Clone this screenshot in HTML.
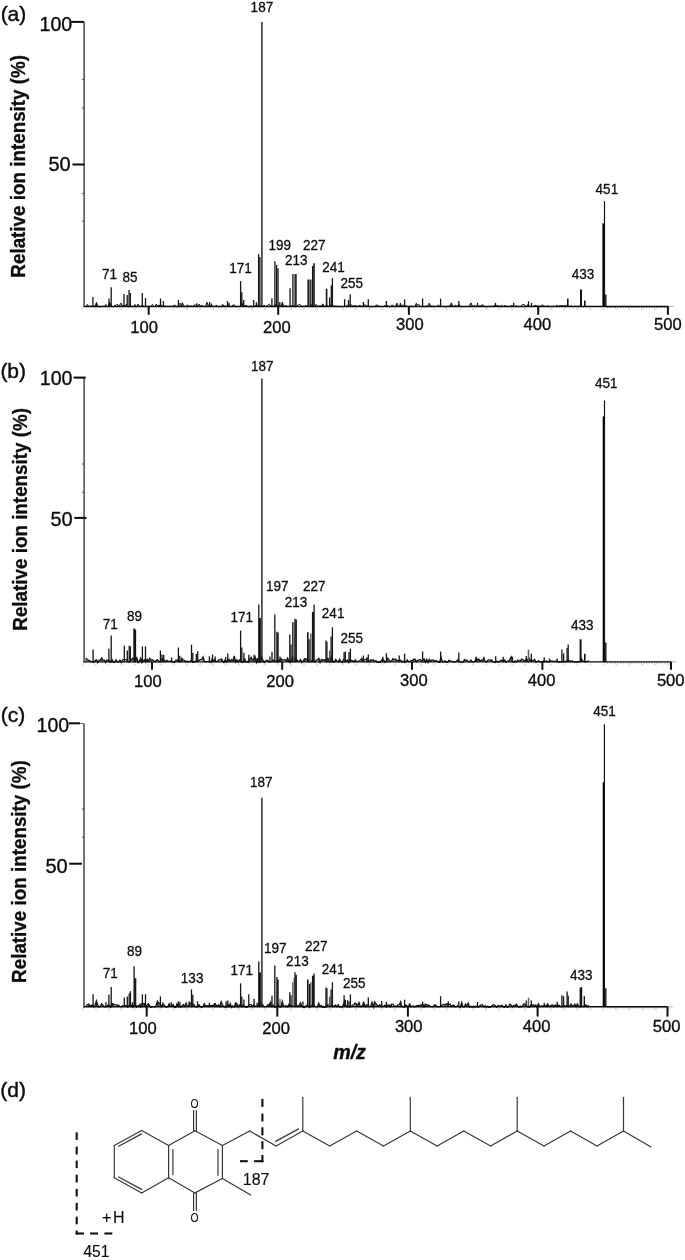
<!DOCTYPE html>
<html lang="en"><head><meta charset="utf-8"><title>Figure</title>
<style>
html,body{margin:0;padding:0;background:#fff}
svg{display:block}
text{font-family:"Liberation Sans",Arial,Helvetica,sans-serif;fill:#0d0d0d;stroke:#0d0d0d;stroke-linejoin:round}
</style></head><body>
<svg width="685" height="1260" viewBox="0 0 685 1260">
<rect width="685" height="1260" fill="#fff"/>
<path d="M81.3 308.1l2.6 2M83.9 308.1l-2.6 2M94.3 308.1l2.6 2M96.9 308.1l-2.6 2M107.3 308.1l2.6 2M109.9 308.1l-2.6 2M120.4 308.1l2.6 2M123.0 308.1l-2.6 2M133.4 308.1l2.6 2M136.0 308.1l-2.6 2M146.4 308.1l2.6 2M149.0 308.1l-2.6 2M159.4 308.1l2.6 2M162.0 308.1l-2.6 2M172.4 308.1l2.6 2M175.0 308.1l-2.6 2M185.5 308.1l2.6 2M188.1 308.1l-2.6 2M198.5 308.1l2.6 2M201.1 308.1l-2.6 2M211.5 308.1l2.6 2M214.1 308.1l-2.6 2M224.5 308.1l2.6 2M227.1 308.1l-2.6 2M237.5 308.1l2.6 2M240.1 308.1l-2.6 2M250.6 308.1l2.6 2M253.2 308.1l-2.6 2M263.6 308.1l2.6 2M266.2 308.1l-2.6 2M276.6 308.1l2.6 2M279.2 308.1l-2.6 2M289.6 308.1l2.6 2M292.2 308.1l-2.6 2M302.6 308.1l2.6 2M305.2 308.1l-2.6 2M315.7 308.1l2.6 2M318.3 308.1l-2.6 2M328.7 308.1l2.6 2M331.3 308.1l-2.6 2M341.7 308.1l2.6 2M344.3 308.1l-2.6 2M354.7 308.1l2.6 2M357.3 308.1l-2.6 2M367.7 308.1l2.6 2M370.3 308.1l-2.6 2M380.8 308.1l2.6 2M383.4 308.1l-2.6 2M393.8 308.1l2.6 2M396.4 308.1l-2.6 2M406.8 308.1l2.6 2M409.4 308.1l-2.6 2M419.8 308.1l2.6 2M422.4 308.1l-2.6 2M432.8 308.1l2.6 2M435.4 308.1l-2.6 2M445.9 308.1l2.6 2M448.5 308.1l-2.6 2M458.9 308.1l2.6 2M461.5 308.1l-2.6 2M471.9 308.1l2.6 2M474.5 308.1l-2.6 2M484.9 308.1l2.6 2M487.5 308.1l-2.6 2M497.9 308.1l2.6 2M500.5 308.1l-2.6 2M511.0 308.1l2.6 2M513.6 308.1l-2.6 2M524.0 308.1l2.6 2M526.6 308.1l-2.6 2M537.0 308.1l2.6 2M539.6 308.1l-2.6 2M550.0 308.1l2.6 2M552.6 308.1l-2.6 2M563.0 308.1l2.6 2M565.6 308.1l-2.6 2M576.1 308.1l2.6 2M578.7 308.1l-2.6 2M589.1 308.1l2.6 2M591.7 308.1l-2.6 2M602.1 308.1l2.6 2M604.7 308.1l-2.6 2M615.1 308.1l2.6 2M617.7 308.1l-2.6 2M628.1 308.1l2.6 2M630.7 308.1l-2.6 2M641.2 308.1l2.6 2M643.8 308.1l-2.6 2M654.2 308.1l2.6 2M656.8 308.1l-2.6 2M667.2 308.1l2.6 2M669.8 308.1l-2.6 2" stroke="#c4c4c4" stroke-width="0.6" fill="none"/>
<path d="M86.1 306.4L87.4 304.4L88.7 306.4L90.0 306.4L91.3 306.2L92.6 306.6L93.9 306.2L95.2 305.8L96.5 302.3L97.8 306.3L99.1 306.8L100.4 306.8L101.7 306.6L103.0 306.4L104.3 306.1L105.6 306.3L106.9 306.3L108.2 306.6L109.5 302.2L110.8 305.1L112.1 306.6L113.4 306.8L114.7 305.4L116.0 305.4L117.3 304.0L118.6 306.7L119.9 304.4L121.2 303.3L122.5 306.3L123.8 305.5L125.1 306.6L126.4 304.1L127.7 306.6L129.0 306.8L130.3 305.6L131.6 306.5L132.9 306.2L134.2 306.3L135.5 306.5L136.8 306.6L138.1 304.0L139.4 306.1L140.7 306.5L142.0 305.2L143.3 306.0L144.6 306.6L145.9 305.5L147.2 306.8L148.5 306.4L149.8 306.3L151.1 306.5L152.4 304.4L153.7 306.1L155.0 306.7L156.3 304.0L157.6 306.7L158.9 304.9L160.2 306.1L161.5 305.2L162.8 306.7L164.1 306.0L165.4 306.3L166.7 306.2L168.0 306.6L169.3 306.2L170.6 306.6L171.9 306.1L173.2 306.6L174.5 304.8L175.8 306.6L177.1 306.8L178.4 306.5L179.7 306.7L181.0 306.1L182.3 302.8L183.6 305.2L184.9 306.8L186.2 306.1L187.5 304.8L188.8 306.3L190.1 306.2L191.4 306.0L192.7 306.4L194.0 304.9L195.3 305.1L196.6 304.9L197.9 306.3L199.2 304.0L200.5 306.2L201.8 305.2L203.1 306.5L204.4 306.3L205.7 306.3L207.0 302.4L208.3 305.4L209.6 305.2L210.9 306.1L212.2 306.2L213.5 306.3L214.8 306.6L216.1 305.3L217.4 306.1L218.7 306.8L220.0 306.3L221.3 306.7L222.6 304.2L223.9 306.1L225.2 306.3L226.5 306.5L227.8 304.9L229.1 305.4L230.4 306.6L231.7 306.4L233.0 305.0L234.3 304.8L235.6 306.7L236.9 306.6L238.2 306.5L239.5 306.4L240.8 306.1L242.1 303.2L243.4 306.8L244.7 305.8L246.0 305.2L247.3 306.2L248.6 306.7L249.9 306.8L251.2 305.6L252.5 306.8L253.8 306.5L255.1 306.3L256.4 304.8L257.7 305.6L259.0 306.7L260.3 306.4L261.6 305.6L262.9 306.5L264.2 305.3L265.5 306.2L266.8 306.2L268.1 304.9L269.4 304.1L270.7 306.5L272.0 306.1L273.3 306.4L274.6 305.0L275.9 304.4L277.2 306.7L278.5 305.0L279.8 306.2L281.1 306.1L282.4 302.2L283.7 306.2L285.0 306.1L286.3 305.5L287.6 306.5L288.9 306.2L290.2 306.8L291.5 305.7L292.8 305.6L294.1 306.2L295.4 306.7L296.7 306.2L298.0 305.1L299.3 304.4L300.6 304.9L301.9 306.4L303.2 306.2L304.5 306.4L305.8 305.2L307.1 306.5L308.4 304.9L309.7 306.1L311.0 304.4L312.3 306.7L313.6 306.4L314.9 306.8L316.2 304.4L317.5 306.2L318.8 306.4L320.1 305.7L321.4 306.5L322.7 303.9L324.0 306.4L325.3 306.5L326.6 304.9L327.9 306.6L329.2 306.3L330.5 304.8L331.8 305.8L333.1 306.6L334.4 305.5L335.7 306.3L337.0 306.2L338.3 306.4L339.6 306.7L340.9 306.5L342.2 306.5L343.5 306.7L344.8 306.3L346.1 306.4L347.4 305.2L348.7 305.6L350.0 305.0L351.3 304.6L352.6 306.1L353.9 306.0L355.2 305.7L356.5 306.2L357.8 306.7L359.1 305.4L360.4 305.7L361.7 306.3L363.0 306.7L364.3 304.9L365.6 304.9L366.9 306.2L368.2 306.3L369.5 306.8L370.8 306.7L372.1 306.4L373.4 306.7L374.7 306.6L376.0 305.1L377.3 305.1L378.6 306.1L379.9 306.3L381.2 306.5L382.5 306.5L383.8 306.8L385.1 305.2L386.4 306.5L387.7 305.6L389.0 306.7L390.3 306.8L391.6 305.2L392.9 305.2L394.2 306.5L395.5 306.4L396.8 303.1L398.1 306.2L399.4 305.2L400.7 305.6L402.0 305.2L403.3 305.3L404.6 305.6L405.9 305.8L407.2 306.5L408.5 306.5L409.8 306.3L411.1 306.1L412.4 306.5L413.7 306.4L415.0 306.5L416.3 303.4L417.6 305.3L418.9 304.3L420.2 306.3L421.5 306.5L422.8 306.6L424.1 306.7L425.4 306.2L426.7 306.4L428.0 304.6L429.3 303.4L430.6 305.8L431.9 306.3L433.2 306.1L434.5 306.5L435.8 306.4L437.1 306.7L438.4 304.8L439.7 306.4L441.0 306.6L442.3 306.4L443.6 306.3L444.9 306.8L446.2 306.7L447.5 306.3L448.8 306.2L450.1 305.9L451.4 302.9L452.7 306.2L454.0 306.4L455.3 305.0L456.6 306.1L457.9 305.5L459.2 304.4L460.5 306.7L461.8 306.5L463.1 306.7L464.4 306.7L465.7 306.3L467.0 306.6L468.3 306.5L469.6 305.5L470.9 302.9L472.2 305.7L473.5 306.2L474.8 305.4L476.1 306.6L477.4 305.4L478.7 306.3L480.0 305.7L481.3 306.1L482.6 304.3L483.9 306.7L485.2 306.5L486.5 306.7L487.8 306.7L489.1 306.3L490.4 306.3L491.7 306.4L493.0 306.5L494.3 305.2L495.6 306.7L496.9 305.4L498.2 305.7L499.5 306.6L500.8 305.6L502.1 306.1L503.4 306.4L504.7 305.1L506.0 306.5L507.3 306.2L508.6 306.7L509.9 306.4L511.2 305.7L512.5 305.8L513.8 306.3L515.1 306.6L516.4 305.3L517.7 306.7L519.0 306.3L520.3 306.7L521.6 305.4L522.9 304.3L524.2 304.8L525.5 305.6L526.8 306.5L528.1 304.3L529.4 306.5L530.7 306.5L532.0 306.5L533.3 306.4L534.6 305.4L535.9 305.4L537.2 306.3L538.5 305.7L539.8 306.4L541.1 306.4L542.4 304.6L543.7 305.9L545.0 306.3L546.3 306.6L547.6 305.7L548.9 306.4L550.2 306.4L551.5 306.6L552.8 306.4L554.1 306.4L555.4 306.5L556.7 305.3L558.0 306.4L559.3 305.8L560.6 305.5L561.9 305.8L563.2 305.7L564.5 305.7L565.8 305.3L567.1 306.4L568.4 305.9L569.7 306.6L571.0 305.6L572.3 306.6L573.6 306.5L574.9 306.3L576.2 306.5L577.5 306.4L578.8 306.1L580.1 306.5L581.4 306.3L582.7 306.6L584.0 306.6L585.3 306.4L586.6 306.6L587.9 306.5L589.2 306.4" stroke="#111" stroke-width="1.0" fill="none" stroke-linejoin="miter"/>
<path d="M96.5 306.5V302.3M109.5 306.5V302.2M121.2 306.5V303.3M182.3 306.5V302.8M207.0 306.5V302.4M242.1 306.5V303.2M282.4 306.5V302.2M322.7 306.5V303.9M396.8 306.5V303.1M416.3 306.5V303.4M429.3 306.5V303.4M451.4 306.5V302.9M470.9 306.5V302.9" stroke="#222" stroke-width="1" fill="none"/>
<line x1="92.90" y1="306.80" x2="92.90" y2="297.00" stroke="#141414" stroke-width="1.3" />
<line x1="105.80" y1="306.80" x2="105.80" y2="304.30" stroke="#141414" stroke-width="1.3" />
<line x1="109.00" y1="306.80" x2="109.00" y2="298.50" stroke="#141414" stroke-width="1.3" />
<line x1="111.20" y1="306.80" x2="111.20" y2="287.20" stroke="#141414" stroke-width="1.3" />
<line x1="124.00" y1="306.80" x2="124.00" y2="294.00" stroke="#141414" stroke-width="1.3" />
<line x1="127.20" y1="306.80" x2="127.20" y2="295.00" stroke="#141414" stroke-width="1.3" />
<line x1="129.10" y1="306.80" x2="129.10" y2="290.00" stroke="#141414" stroke-width="1.3" />
<line x1="130.30" y1="306.80" x2="130.30" y2="293.00" stroke="#141414" stroke-width="1.3" />
<line x1="135.00" y1="306.80" x2="135.00" y2="304.30" stroke="#141414" stroke-width="1.3" />
<line x1="142.30" y1="306.80" x2="142.30" y2="293.00" stroke="#141414" stroke-width="1.3" />
<line x1="145.50" y1="306.80" x2="145.50" y2="298.00" stroke="#141414" stroke-width="1.3" />
<line x1="160.50" y1="306.80" x2="160.50" y2="298.50" stroke="#141414" stroke-width="1.3" />
<line x1="163.40" y1="306.80" x2="163.40" y2="301.00" stroke="#141414" stroke-width="1.3" />
<line x1="178.40" y1="306.80" x2="178.40" y2="300.00" stroke="#141414" stroke-width="1.3" />
<line x1="180.00" y1="306.80" x2="180.00" y2="303.00" stroke="#141414" stroke-width="1.3" />
<line x1="196.80" y1="306.80" x2="196.80" y2="303.20" stroke="#141414" stroke-width="1.3" />
<line x1="209.60" y1="306.80" x2="209.60" y2="302.00" stroke="#141414" stroke-width="1.3" />
<line x1="211.50" y1="306.80" x2="211.50" y2="303.50" stroke="#141414" stroke-width="1.3" />
<line x1="227.50" y1="306.80" x2="227.50" y2="301.00" stroke="#141414" stroke-width="1.3" />
<line x1="229.00" y1="306.80" x2="229.00" y2="303.00" stroke="#141414" stroke-width="1.3" />
<line x1="240.60" y1="306.80" x2="240.60" y2="281.20" stroke="#141414" stroke-width="1.3" />
<line x1="241.80" y1="306.80" x2="241.80" y2="292.20" stroke="#141414" stroke-width="1.3" />
<line x1="243.70" y1="306.80" x2="243.70" y2="300.00" stroke="#141414" stroke-width="1.3" />
<line x1="253.70" y1="306.80" x2="253.70" y2="300.00" stroke="#141414" stroke-width="1.3" />
<line x1="256.40" y1="306.80" x2="256.40" y2="302.20" stroke="#141414" stroke-width="1.3" />
<line x1="258.60" y1="306.80" x2="258.60" y2="254.20" stroke="#141414" stroke-width="1.3" />
<line x1="259.90" y1="306.80" x2="259.90" y2="257.00" stroke="#141414" stroke-width="1.3" />
<line x1="261.90" y1="306.80" x2="261.90" y2="21.90" stroke="#2a2a2a" stroke-width="1.5" />
<line x1="271.90" y1="306.80" x2="271.90" y2="298.30" stroke="#141414" stroke-width="1.3" />
<line x1="274.90" y1="306.80" x2="274.90" y2="261.20" stroke="#141414" stroke-width="1.3" />
<line x1="276.60" y1="306.80" x2="276.60" y2="265.00" stroke="#141414" stroke-width="1.3" />
<line x1="278.00" y1="306.80" x2="278.00" y2="268.20" stroke="#141414" stroke-width="1.3" />
<line x1="279.80" y1="306.80" x2="279.80" y2="302.00" stroke="#141414" stroke-width="1.3" />
<line x1="290.10" y1="306.80" x2="290.10" y2="288.20" stroke="#141414" stroke-width="1.3" />
<line x1="292.90" y1="306.80" x2="292.90" y2="274.10" stroke="#141414" stroke-width="1.3" />
<line x1="294.30" y1="306.80" x2="294.30" y2="274.10" stroke="#777" stroke-width="1.6" />
<line x1="295.90" y1="306.80" x2="295.90" y2="274.10" stroke="#141414" stroke-width="1.6" />
<line x1="308.20" y1="306.80" x2="308.20" y2="279.40" stroke="#141414" stroke-width="1.6" />
<line x1="309.50" y1="306.80" x2="309.50" y2="279.60" stroke="#777" stroke-width="1.3" />
<line x1="310.80" y1="306.80" x2="310.80" y2="279.40" stroke="#141414" stroke-width="1.3" />
<line x1="312.60" y1="306.80" x2="312.60" y2="266.00" stroke="#141414" stroke-width="1.3" />
<line x1="314.00" y1="306.80" x2="314.00" y2="263.30" stroke="#141414" stroke-width="1.6" />
<line x1="326.60" y1="306.80" x2="326.60" y2="288.70" stroke="#141414" stroke-width="1.6" />
<line x1="329.60" y1="306.80" x2="329.60" y2="297.50" stroke="#141414" stroke-width="1.3" />
<line x1="331.30" y1="306.80" x2="331.30" y2="285.20" stroke="#141414" stroke-width="1.3" />
<line x1="332.40" y1="306.80" x2="332.40" y2="278.20" stroke="#141414" stroke-width="1.3" />
<line x1="344.60" y1="306.80" x2="344.60" y2="299.20" stroke="#141414" stroke-width="1.3" />
<line x1="348.50" y1="306.80" x2="348.50" y2="300.00" stroke="#141414" stroke-width="1.3" />
<line x1="350.20" y1="306.80" x2="350.20" y2="294.30" stroke="#141414" stroke-width="1.3" />
<line x1="363.40" y1="306.80" x2="363.40" y2="302.00" stroke="#141414" stroke-width="1.3" />
<line x1="368.30" y1="306.80" x2="368.30" y2="299.20" stroke="#141414" stroke-width="1.3" />
<line x1="386.40" y1="306.80" x2="386.40" y2="301.00" stroke="#141414" stroke-width="1.3" />
<line x1="400.40" y1="306.80" x2="400.40" y2="303.00" stroke="#141414" stroke-width="1.3" />
<line x1="404.60" y1="306.80" x2="404.60" y2="299.50" stroke="#141414" stroke-width="1.3" />
<line x1="422.60" y1="306.80" x2="422.60" y2="298.60" stroke="#141414" stroke-width="1.3" />
<line x1="440.60" y1="306.80" x2="440.60" y2="298.60" stroke="#141414" stroke-width="1.3" />
<line x1="458.80" y1="306.80" x2="458.80" y2="301.00" stroke="#141414" stroke-width="1.3" />
<line x1="477.50" y1="306.80" x2="477.50" y2="302.80" stroke="#141414" stroke-width="1.3" />
<line x1="495.50" y1="306.80" x2="495.50" y2="302.80" stroke="#141414" stroke-width="1.3" />
<line x1="513.70" y1="306.80" x2="513.70" y2="302.80" stroke="#141414" stroke-width="1.3" />
<line x1="528.50" y1="306.80" x2="528.50" y2="301.30" stroke="#141414" stroke-width="1.3" />
<line x1="531.50" y1="306.80" x2="531.50" y2="302.80" stroke="#141414" stroke-width="1.3" />
<line x1="567.80" y1="306.80" x2="567.80" y2="298.50" stroke="#141414" stroke-width="1.6" />
<line x1="581.00" y1="306.80" x2="581.00" y2="289.60" stroke="#141414" stroke-width="2" />
<line x1="584.80" y1="306.80" x2="584.80" y2="300.40" stroke="#141414" stroke-width="1.6" />
<line x1="603.50" y1="306.80" x2="603.50" y2="223.30" stroke="#000" stroke-width="2.2" />
<line x1="604.50" y1="306.80" x2="604.50" y2="201.10" stroke="#141414" stroke-width="1.2" />
<line x1="605.80" y1="306.80" x2="605.80" y2="294.50" stroke="#141414" stroke-width="1.4" />
<line x1="607" y1="307.5" x2="667.5" y2="307.5" stroke="#777" stroke-width="0.9" stroke-dasharray="1.2 1.4"/>
<line x1="83.40" y1="306.50" x2="668.50" y2="306.50" stroke="#0a0a0a" stroke-width="1.4" />
<line x1="668.50" y1="306.50" x2="673.50" y2="306.50" stroke="#999" stroke-width="0.8" />
<line x1="84.10" y1="22.30" x2="84.10" y2="307.10" stroke="#3a3a3a" stroke-width="1.4" />
<line x1="71.20" y1="21.90" x2="84.00" y2="21.90" stroke="#0a0a0a" stroke-width="2.0" />
<line x1="72.50" y1="164.50" x2="84.50" y2="164.50" stroke="#0a0a0a" stroke-width="2.0" />
<line x1="82.10" y1="79.40" x2="84.10" y2="79.40" stroke="#444" stroke-width="1.0" />
<line x1="82.10" y1="107.90" x2="84.10" y2="107.90" stroke="#444" stroke-width="1.0" />
<line x1="82.10" y1="193.70" x2="84.10" y2="193.70" stroke="#444" stroke-width="1.0" />
<line x1="82.10" y1="221.20" x2="84.10" y2="221.20" stroke="#444" stroke-width="1.0" />
<line x1="148.70" y1="306.50" x2="148.70" y2="314.80" stroke="#111" stroke-width="2.0" />
<line x1="278.20" y1="306.50" x2="278.20" y2="314.80" stroke="#111" stroke-width="2.0" />
<line x1="408.90" y1="306.50" x2="408.90" y2="314.80" stroke="#111" stroke-width="2.0" />
<line x1="538.20" y1="306.50" x2="538.20" y2="314.80" stroke="#111" stroke-width="2.0" />
<line x1="667.90" y1="306.50" x2="667.90" y2="314.80" stroke="#111" stroke-width="2.0" />
<text transform="translate(250.62 11.70) scale(0.92 1)" font-size="14.7" stroke-width="0.3" >187</text>
<text transform="translate(101.96 279.20) scale(0.92 1)" font-size="14.7" stroke-width="0.3" >71</text>
<text transform="translate(122.56 281.70) scale(0.92 1)" font-size="14.7" stroke-width="0.3" >85</text>
<text transform="translate(229.34 272.60) scale(0.92 1)" font-size="14.7" stroke-width="0.3" >171</text>
<text transform="translate(268.49 249.60) scale(0.92 1)" font-size="14.7" stroke-width="0.3" >199</text>
<text transform="translate(284.92 265.40) scale(0.92 1)" font-size="14.7" stroke-width="0.3" >213</text>
<text transform="translate(303.04 249.80) scale(0.92 1)" font-size="14.7" stroke-width="0.3" >227</text>
<text transform="translate(322.31 272.00) scale(0.92 1)" font-size="14.7" stroke-width="0.3" >241</text>
<text transform="translate(340.52 288.00) scale(0.92 1)" font-size="14.7" stroke-width="0.3" >255</text>
<text transform="translate(571.83 279.10) scale(0.92 1)" font-size="14.7" stroke-width="0.3" >433</text>
<text transform="translate(595.61 193.80) scale(0.92 1)" font-size="14.7" stroke-width="0.3" >451</text>
<text x="130.20" y="333.00" font-size="16.6" stroke-width="0.35" >100</text>
<text x="263.11" y="333.00" font-size="16.6" stroke-width="0.35" >200</text>
<text x="396.09" y="329.90" font-size="16.6" stroke-width="0.35" >300</text>
<text x="523.55" y="329.90" font-size="16.6" stroke-width="0.35" >400</text>
<text x="654.09" y="329.90" font-size="16.6" stroke-width="0.35" >500</text>
<text x="39.49" y="31.00" font-size="19.6" stroke-width="0.35" >100</text>
<text x="48.50" y="170.50" font-size="20" stroke-width="0.35" >50</text>
<text x="0.64" y="20.60" font-size="21" stroke-width="0.4" >(a)</text>
<text transform="translate(24.72 277.64) rotate(-90) scale(0.946 1)" font-size="19.9" font-weight="bold" stroke-width="0.3">Relative ion intensity (%)</text>
<path d="M81.3 663.5l2.6 2M83.9 663.5l-2.6 2M94.3 663.5l2.6 2M96.9 663.5l-2.6 2M107.3 663.5l2.6 2M109.9 663.5l-2.6 2M120.4 663.5l2.6 2M123.0 663.5l-2.6 2M133.4 663.5l2.6 2M136.0 663.5l-2.6 2M146.4 663.5l2.6 2M149.0 663.5l-2.6 2M159.4 663.5l2.6 2M162.0 663.5l-2.6 2M172.4 663.5l2.6 2M175.0 663.5l-2.6 2M185.5 663.5l2.6 2M188.1 663.5l-2.6 2M198.5 663.5l2.6 2M201.1 663.5l-2.6 2M211.5 663.5l2.6 2M214.1 663.5l-2.6 2M224.5 663.5l2.6 2M227.1 663.5l-2.6 2M237.5 663.5l2.6 2M240.1 663.5l-2.6 2M250.6 663.5l2.6 2M253.2 663.5l-2.6 2M263.6 663.5l2.6 2M266.2 663.5l-2.6 2M276.6 663.5l2.6 2M279.2 663.5l-2.6 2M289.6 663.5l2.6 2M292.2 663.5l-2.6 2M302.6 663.5l2.6 2M305.2 663.5l-2.6 2M315.7 663.5l2.6 2M318.3 663.5l-2.6 2M328.7 663.5l2.6 2M331.3 663.5l-2.6 2M341.7 663.5l2.6 2M344.3 663.5l-2.6 2M354.7 663.5l2.6 2M357.3 663.5l-2.6 2M367.7 663.5l2.6 2M370.3 663.5l-2.6 2M380.8 663.5l2.6 2M383.4 663.5l-2.6 2M393.8 663.5l2.6 2M396.4 663.5l-2.6 2M406.8 663.5l2.6 2M409.4 663.5l-2.6 2M419.8 663.5l2.6 2M422.4 663.5l-2.6 2M432.8 663.5l2.6 2M435.4 663.5l-2.6 2M445.9 663.5l2.6 2M448.5 663.5l-2.6 2M458.9 663.5l2.6 2M461.5 663.5l-2.6 2M471.9 663.5l2.6 2M474.5 663.5l-2.6 2M484.9 663.5l2.6 2M487.5 663.5l-2.6 2M497.9 663.5l2.6 2M500.5 663.5l-2.6 2M511.0 663.5l2.6 2M513.6 663.5l-2.6 2M524.0 663.5l2.6 2M526.6 663.5l-2.6 2M537.0 663.5l2.6 2M539.6 663.5l-2.6 2M550.0 663.5l2.6 2M552.6 663.5l-2.6 2M563.0 663.5l2.6 2M565.6 663.5l-2.6 2M576.1 663.5l2.6 2M578.7 663.5l-2.6 2M589.1 663.5l2.6 2M591.7 663.5l-2.6 2M602.1 663.5l2.6 2M604.7 663.5l-2.6 2M615.1 663.5l2.6 2M617.7 663.5l-2.6 2M628.1 663.5l2.6 2M630.7 663.5l-2.6 2M641.2 663.5l2.6 2M643.8 663.5l-2.6 2M654.2 663.5l2.6 2M656.8 663.5l-2.6 2M667.2 663.5l2.6 2M669.8 663.5l-2.6 2" stroke="#c4c4c4" stroke-width="0.6" fill="none"/>
<path d="M86.1 658.2L87.4 659.9L88.7 660.4L90.0 660.9L91.3 661.9L92.6 661.9L93.9 662.5L95.2 660.4L96.5 659.9L97.8 662.5L99.1 660.2L100.4 660.1L101.7 657.8L103.0 660.5L104.3 660.0L105.6 662.5L106.9 660.0L108.2 660.4L109.5 660.8L110.8 662.1L112.1 659.7L113.4 662.5L114.7 662.2L116.0 659.8L117.3 662.0L118.6 662.1L119.9 660.2L121.2 662.4L122.5 660.0L123.8 659.6L125.1 659.6L126.4 659.6L127.7 661.1L129.0 662.0L130.3 661.3L131.6 659.5L132.9 658.2L134.2 659.5L135.5 660.5L136.8 657.8L138.1 662.5L139.4 660.8L140.7 658.2L142.0 662.5L143.3 660.8L144.6 659.8L145.9 661.9L147.2 659.2L148.5 661.2L149.8 658.3L151.1 660.4L152.4 659.8L153.7 660.7L155.0 662.0L156.3 660.2L157.6 659.8L158.9 661.6L160.2 661.7L161.5 659.6L162.8 658.7L164.1 660.2L165.4 661.7L166.7 660.4L168.0 661.1L169.3 661.4L170.6 661.2L171.9 661.5L173.2 661.9L174.5 662.5L175.8 660.3L177.1 660.2L178.4 660.3L179.7 661.2L181.0 661.2L182.3 659.1L183.6 660.0L184.9 660.6L186.2 662.1L187.5 661.1L188.8 662.0L190.1 661.3L191.4 660.2L192.7 662.2L194.0 662.3L195.3 661.3L196.6 660.9L197.9 660.9L199.2 660.4L200.5 659.6L201.8 659.6L203.1 657.0L204.4 661.3L205.7 662.0L207.0 661.3L208.3 661.4L209.6 661.5L210.9 662.5L212.2 658.8L213.5 661.1L214.8 659.7L216.1 661.6L217.4 661.4L218.7 660.0L220.0 659.9L221.3 658.9L222.6 660.6L223.9 662.5L225.2 659.7L226.5 662.1L227.8 660.2L229.1 659.2L230.4 661.6L231.7 659.6L233.0 661.2L234.3 656.0L235.6 662.0L236.9 659.8L238.2 662.0L239.5 659.9L240.8 660.8L242.1 662.5L243.4 661.9L244.7 658.9L246.0 662.2L247.3 661.5L248.6 662.3L249.9 658.9L251.2 657.3L252.5 660.4L253.8 659.6L255.1 656.9L256.4 662.5L257.7 659.3L259.0 662.5L260.3 662.0L261.6 656.7L262.9 660.0L264.2 662.4L265.5 661.0L266.8 660.3L268.1 660.9L269.4 661.9L270.7 661.6L272.0 661.6L273.3 660.1L274.6 660.8L275.9 661.1L277.2 662.2L278.5 660.2L279.8 660.6L281.1 658.8L282.4 660.2L283.7 659.8L285.0 659.6L286.3 660.9L287.6 658.2L288.9 661.3L290.2 662.5L291.5 659.9L292.8 657.0L294.1 660.7L295.4 659.5L296.7 659.7L298.0 661.4L299.3 661.0L300.6 659.7L301.9 662.5L303.2 660.9L304.5 658.9L305.8 658.6L307.1 660.2L308.4 660.1L309.7 661.3L311.0 661.7L312.3 659.7L313.6 661.3L314.9 662.1L316.2 660.1L317.5 659.7L318.8 658.5L320.1 662.4L321.4 659.5L322.7 660.4L324.0 659.8L325.3 660.2L326.6 659.6L327.9 658.4L329.2 661.7L330.5 658.7L331.8 656.2L333.1 661.8L334.4 662.3L335.7 659.5L337.0 660.9L338.3 662.0L339.6 659.2L340.9 661.7L342.2 662.6L343.5 659.5L344.8 659.9L346.1 661.7L347.4 659.9L348.7 662.5L350.0 659.6L351.3 660.4L352.6 660.6L353.9 661.9L355.2 659.8L356.5 661.6L357.8 661.4L359.1 661.2L360.4 660.1L361.7 658.5L363.0 660.9L364.3 659.9L365.6 659.6L366.9 658.8L368.2 659.8L369.5 661.8L370.8 659.9L372.1 660.4L373.4 659.9L374.7 661.5L376.0 660.7L377.3 662.3L378.6 662.1L379.9 662.4L381.2 660.7L382.5 659.0L383.8 660.1L385.1 662.4L386.4 660.9L387.7 658.3L389.0 660.0L390.3 661.7L391.6 660.9L392.9 658.7L394.2 659.9L395.5 659.0L396.8 660.2L398.1 660.8L399.4 660.4L400.7 660.3L402.0 662.1L403.3 661.1L404.6 662.4L405.9 661.9L407.2 659.8L408.5 661.6L409.8 661.7L411.1 660.6L412.4 660.4L413.7 659.1L415.0 659.1L416.3 661.8L417.6 660.2L418.9 660.1L420.2 659.5L421.5 661.2L422.8 660.2L424.1 658.9L425.4 662.2L426.7 659.3L428.0 662.5L429.3 659.4L430.6 661.2L431.9 660.2L433.2 659.9L434.5 661.0L435.8 660.6L437.1 661.1L438.4 662.0L439.7 662.0L441.0 657.1L442.3 661.4L443.6 662.2L444.9 660.8L446.2 662.4L447.5 662.3L448.8 660.3L450.1 660.9L451.4 661.2L452.7 661.5L454.0 662.0L455.3 661.9L456.6 661.1L457.9 659.9L459.2 661.0L460.5 662.2L461.8 662.2L463.1 662.4L464.4 659.5L465.7 660.5L467.0 660.3L468.3 661.6L469.6 661.8L470.9 660.1L472.2 662.0L473.5 661.7L474.8 661.5L476.1 658.0L477.4 660.1L478.7 659.0L480.0 661.1L481.3 660.1L482.6 660.8L483.9 657.8L485.2 661.4L486.5 662.2L487.8 660.3L489.1 659.7L490.4 660.3L491.7 660.0L493.0 661.8L494.3 661.9L495.6 662.4L496.9 661.1L498.2 662.0L499.5 661.4L500.8 660.3L502.1 660.1L503.4 661.1L504.7 660.0L506.0 662.3L507.3 661.3L508.6 661.0L509.9 659.1L511.2 656.9L512.5 661.5L513.8 662.3L515.1 660.9L516.4 662.0L517.7 660.0L519.0 660.5L520.3 661.0L521.6 659.1L522.9 659.6L524.2 661.1L525.5 660.3L526.8 658.8L528.1 661.5L529.4 658.7L530.7 660.8L532.0 660.3L533.3 660.6L534.6 659.3L535.9 662.3L537.2 661.5L538.5 660.7L539.8 661.8L541.1 661.8L542.4 662.1L543.7 660.9L545.0 661.8L546.3 660.8L547.6 662.0L548.9 661.9L550.2 660.8L551.5 661.1L552.8 661.1L554.1 661.3L555.4 661.2L556.7 661.0L558.0 661.5L559.3 662.3L560.6 661.7L561.9 661.7L563.2 662.0L564.5 661.5L565.8 661.5L567.1 661.2L568.4 660.4L569.7 660.6L571.0 661.7L572.3 660.9L573.6 661.9L574.9 662.1L576.2 661.7L577.5 662.0L578.8 661.7L580.1 661.4L581.4 658.8L582.7 660.8L584.0 661.5L585.3 662.1L586.6 661.7L587.9 661.2L589.2 661.3" stroke="#111" stroke-width="1.3" fill="none" stroke-linejoin="miter"/>
<path d="M86.1 661.9V658.2M101.7 661.9V657.8M132.9 661.9V658.2M136.8 661.9V657.8M140.7 661.9V658.2M147.2 661.9V659.2M149.8 661.9V658.3M162.8 661.9V658.7M182.3 661.9V659.1M203.1 661.9V657.0M212.2 661.9V658.8M221.3 661.9V658.9M229.1 661.9V659.2M234.3 661.9V656.0M244.7 661.9V658.9M249.9 661.9V658.9M251.2 661.9V657.3M255.1 661.9V656.9M261.6 661.9V656.7M281.1 661.9V658.8M287.6 661.9V658.2M292.8 661.9V657.0M304.5 661.9V658.9M305.8 661.9V658.6M318.8 661.9V658.5M327.9 661.9V658.4M330.5 661.9V658.7M331.8 661.9V656.2M339.6 661.9V659.2M361.7 661.9V658.5M366.9 661.9V658.8M382.5 661.9V659.0M387.7 661.9V658.3M392.9 661.9V658.7M395.5 661.9V659.0M413.7 661.9V659.1M415.0 661.9V659.1M424.1 661.9V658.9M426.7 661.9V659.3M441.0 661.9V657.1M476.1 661.9V658.0M478.7 661.9V659.0M483.9 661.9V657.8M509.9 661.9V659.1M511.2 661.9V656.9M521.6 661.9V659.1M526.8 661.9V658.8M529.4 661.9V658.7M581.4 661.9V658.8" stroke="#222" stroke-width="1" fill="none"/>
<line x1="93.10" y1="662.20" x2="93.10" y2="649.60" stroke="#141414" stroke-width="1.3" />
<line x1="108.90" y1="662.20" x2="108.90" y2="648.70" stroke="#141414" stroke-width="1.3" />
<line x1="111.20" y1="662.20" x2="111.20" y2="635.60" stroke="#141414" stroke-width="1.3" />
<line x1="124.30" y1="662.20" x2="124.30" y2="645.70" stroke="#141414" stroke-width="1.3" />
<line x1="127.30" y1="662.20" x2="127.30" y2="650.40" stroke="#141414" stroke-width="1.3" />
<line x1="129.20" y1="662.20" x2="129.20" y2="645.70" stroke="#141414" stroke-width="1.3" />
<line x1="130.40" y1="662.20" x2="130.40" y2="646.40" stroke="#141414" stroke-width="1.3" />
<line x1="134.30" y1="662.20" x2="134.30" y2="628.50" stroke="#141414" stroke-width="2" />
<line x1="135.50" y1="662.20" x2="135.50" y2="630.00" stroke="#141414" stroke-width="1.3" />
<line x1="142.40" y1="662.20" x2="142.40" y2="646.40" stroke="#141414" stroke-width="1.3" />
<line x1="145.50" y1="662.20" x2="145.50" y2="646.40" stroke="#141414" stroke-width="1.3" />
<line x1="160.40" y1="662.20" x2="160.40" y2="650.40" stroke="#141414" stroke-width="1.3" />
<line x1="162.00" y1="662.20" x2="162.00" y2="654.50" stroke="#141414" stroke-width="1.3" />
<line x1="163.70" y1="662.20" x2="163.70" y2="654.80" stroke="#141414" stroke-width="1.3" />
<line x1="171.60" y1="662.20" x2="171.60" y2="657.40" stroke="#141414" stroke-width="1.3" />
<line x1="178.40" y1="662.20" x2="178.40" y2="647.50" stroke="#141414" stroke-width="1.3" />
<line x1="179.80" y1="662.20" x2="179.80" y2="655.70" stroke="#141414" stroke-width="1.3" />
<line x1="181.60" y1="662.20" x2="181.60" y2="657.50" stroke="#141414" stroke-width="1.3" />
<line x1="191.50" y1="662.20" x2="191.50" y2="644.70" stroke="#141414" stroke-width="1.3" />
<line x1="192.80" y1="662.20" x2="192.80" y2="652.70" stroke="#141414" stroke-width="1.3" />
<line x1="196.30" y1="662.20" x2="196.30" y2="654.00" stroke="#141414" stroke-width="1.3" />
<line x1="197.70" y1="662.20" x2="197.70" y2="651.30" stroke="#141414" stroke-width="1.3" />
<line x1="209.40" y1="662.20" x2="209.40" y2="656.20" stroke="#141414" stroke-width="1.3" />
<line x1="212.60" y1="662.20" x2="212.60" y2="654.50" stroke="#141414" stroke-width="1.3" />
<line x1="215.20" y1="662.20" x2="215.20" y2="656.50" stroke="#141414" stroke-width="1.3" />
<line x1="225.70" y1="662.20" x2="225.70" y2="657.00" stroke="#141414" stroke-width="1.3" />
<line x1="227.80" y1="662.20" x2="227.80" y2="653.40" stroke="#141414" stroke-width="1.3" />
<line x1="240.60" y1="662.20" x2="240.60" y2="630.60" stroke="#141414" stroke-width="1.3" />
<line x1="241.80" y1="662.20" x2="241.80" y2="647.50" stroke="#141414" stroke-width="1.3" />
<line x1="243.90" y1="662.20" x2="243.90" y2="652.70" stroke="#141414" stroke-width="1.3" />
<line x1="248.80" y1="662.20" x2="248.80" y2="654.80" stroke="#141414" stroke-width="1.3" />
<line x1="254.10" y1="662.20" x2="254.10" y2="654.80" stroke="#141414" stroke-width="1.3" />
<line x1="257.10" y1="662.20" x2="257.10" y2="658.00" stroke="#141414" stroke-width="1.3" />
<line x1="258.80" y1="662.20" x2="258.80" y2="604.40" stroke="#141414" stroke-width="1.3" />
<line x1="259.90" y1="662.20" x2="259.90" y2="618.00" stroke="#141414" stroke-width="2" />
<line x1="261.90" y1="662.20" x2="261.90" y2="378.50" stroke="#2a2a2a" stroke-width="1.5" />
<line x1="269.90" y1="662.20" x2="269.90" y2="656.50" stroke="#141414" stroke-width="1.3" />
<line x1="272.00" y1="662.20" x2="272.00" y2="651.70" stroke="#141414" stroke-width="1.3" />
<line x1="274.80" y1="662.20" x2="274.80" y2="614.50" stroke="#141414" stroke-width="1.3" />
<line x1="276.90" y1="662.20" x2="276.90" y2="631.70" stroke="#141414" stroke-width="1.3" />
<line x1="277.90" y1="662.20" x2="277.90" y2="632.40" stroke="#141414" stroke-width="1.6" />
<line x1="280.00" y1="662.20" x2="280.00" y2="656.50" stroke="#141414" stroke-width="1.3" />
<line x1="289.80" y1="662.20" x2="289.80" y2="634.50" stroke="#141414" stroke-width="1.3" />
<line x1="291.00" y1="662.20" x2="291.00" y2="644.50" stroke="#141414" stroke-width="1.3" />
<line x1="292.80" y1="662.20" x2="292.80" y2="622.20" stroke="#141414" stroke-width="1.3" />
<line x1="294.00" y1="662.20" x2="294.00" y2="622.50" stroke="#777" stroke-width="1.4" />
<line x1="295.00" y1="662.20" x2="295.00" y2="618.70" stroke="#141414" stroke-width="1.3" />
<line x1="296.10" y1="662.20" x2="296.10" y2="619.40" stroke="#141414" stroke-width="1.6" />
<line x1="307.80" y1="662.20" x2="307.80" y2="632.20" stroke="#141414" stroke-width="1.6" />
<line x1="309.10" y1="662.20" x2="309.10" y2="639.20" stroke="#141414" stroke-width="1.3" />
<line x1="310.80" y1="662.20" x2="310.80" y2="633.40" stroke="#555" stroke-width="1.4" />
<line x1="312.90" y1="662.20" x2="312.90" y2="612.00" stroke="#141414" stroke-width="2" />
<line x1="314.10" y1="662.20" x2="314.10" y2="604.50" stroke="#141414" stroke-width="1.3" />
<line x1="326.00" y1="662.20" x2="326.00" y2="640.40" stroke="#141414" stroke-width="1.3" />
<line x1="326.90" y1="662.20" x2="326.90" y2="641.80" stroke="#141414" stroke-width="1.3" />
<line x1="329.60" y1="662.20" x2="329.60" y2="650.60" stroke="#555" stroke-width="1.3" />
<line x1="331.10" y1="662.20" x2="331.10" y2="636.60" stroke="#141414" stroke-width="1.3" />
<line x1="332.40" y1="662.20" x2="332.40" y2="627.30" stroke="#141414" stroke-width="1.3" />
<line x1="344.10" y1="662.20" x2="344.10" y2="652.30" stroke="#141414" stroke-width="1.3" />
<line x1="345.30" y1="662.20" x2="345.30" y2="651.50" stroke="#141414" stroke-width="1.3" />
<line x1="349.00" y1="662.20" x2="349.00" y2="652.00" stroke="#141414" stroke-width="1.3" />
<line x1="350.40" y1="662.20" x2="350.40" y2="648.50" stroke="#141414" stroke-width="1.3" />
<line x1="363.40" y1="662.20" x2="363.40" y2="655.50" stroke="#141414" stroke-width="1.3" />
<line x1="366.90" y1="662.20" x2="366.90" y2="657.20" stroke="#141414" stroke-width="1.3" />
<line x1="368.30" y1="662.20" x2="368.30" y2="654.40" stroke="#141414" stroke-width="1.3" />
<line x1="382.80" y1="662.20" x2="382.80" y2="656.70" stroke="#141414" stroke-width="1.3" />
<line x1="386.40" y1="662.20" x2="386.40" y2="653.20" stroke="#141414" stroke-width="1.3" />
<line x1="399.20" y1="662.20" x2="399.20" y2="655.50" stroke="#141414" stroke-width="1.3" />
<line x1="404.60" y1="662.20" x2="404.60" y2="653.70" stroke="#141414" stroke-width="1.3" />
<line x1="422.60" y1="662.20" x2="422.60" y2="651.60" stroke="#141414" stroke-width="1.3" />
<line x1="440.60" y1="662.20" x2="440.60" y2="651.60" stroke="#141414" stroke-width="1.3" />
<line x1="458.80" y1="662.20" x2="458.80" y2="652.50" stroke="#141414" stroke-width="1.3" />
<line x1="476.30" y1="662.20" x2="476.30" y2="656.70" stroke="#141414" stroke-width="1.3" />
<line x1="495.70" y1="662.20" x2="495.70" y2="656.20" stroke="#141414" stroke-width="1.3" />
<line x1="503.20" y1="662.20" x2="503.20" y2="656.70" stroke="#141414" stroke-width="1.3" />
<line x1="512.50" y1="662.20" x2="512.50" y2="656.70" stroke="#141414" stroke-width="1.3" />
<line x1="526.20" y1="662.20" x2="526.20" y2="656.00" stroke="#141414" stroke-width="1.3" />
<line x1="528.50" y1="662.20" x2="528.50" y2="649.60" stroke="#666" stroke-width="1.6" />
<line x1="531.30" y1="662.20" x2="531.30" y2="653.80" stroke="#141414" stroke-width="1.3" />
<line x1="544.20" y1="662.20" x2="544.20" y2="657.30" stroke="#141414" stroke-width="1.3" />
<line x1="549.50" y1="662.20" x2="549.50" y2="658.50" stroke="#141414" stroke-width="1.3" />
<line x1="557.20" y1="662.20" x2="557.20" y2="658.50" stroke="#141414" stroke-width="1.3" />
<line x1="561.90" y1="662.20" x2="561.90" y2="649.60" stroke="#141414" stroke-width="1.3" />
<line x1="563.60" y1="662.20" x2="563.60" y2="653.40" stroke="#141414" stroke-width="1.3" />
<line x1="567.10" y1="662.20" x2="567.10" y2="648.00" stroke="#141414" stroke-width="1.3" />
<line x1="568.20" y1="662.20" x2="568.20" y2="644.50" stroke="#141414" stroke-width="1.3" />
<line x1="580.60" y1="662.20" x2="580.60" y2="639.30" stroke="#141414" stroke-width="2" />
<line x1="584.80" y1="662.20" x2="584.80" y2="653.80" stroke="#141414" stroke-width="1.6" />
<line x1="603.80" y1="662.20" x2="603.80" y2="416.40" stroke="#000" stroke-width="2.2" />
<line x1="604.50" y1="662.20" x2="604.50" y2="400.40" stroke="#141414" stroke-width="1.2" />
<line x1="605.80" y1="662.20" x2="605.80" y2="642.60" stroke="#141414" stroke-width="1.4" />
<line x1="607" y1="662.9" x2="670.0" y2="662.9" stroke="#777" stroke-width="0.9" stroke-dasharray="1.2 1.4"/>
<line x1="83.40" y1="661.90" x2="671.00" y2="661.90" stroke="#0a0a0a" stroke-width="1.4" />
<line x1="671.00" y1="661.90" x2="676.00" y2="661.90" stroke="#999" stroke-width="0.8" />
<line x1="84.10" y1="378.00" x2="84.10" y2="662.50" stroke="#3a3a3a" stroke-width="1.4" />
<line x1="73.60" y1="377.60" x2="85.70" y2="377.60" stroke="#0a0a0a" stroke-width="2.0" />
<line x1="74.30" y1="517.90" x2="86.50" y2="517.90" stroke="#0a0a0a" stroke-width="2.0" />
<line x1="82.10" y1="464.00" x2="84.10" y2="464.00" stroke="#444" stroke-width="1.0" />
<line x1="82.10" y1="492.30" x2="84.10" y2="492.30" stroke="#444" stroke-width="1.0" />
<line x1="152.00" y1="661.90" x2="152.00" y2="669.80" stroke="#111" stroke-width="2.0" />
<line x1="282.20" y1="661.90" x2="282.20" y2="669.80" stroke="#111" stroke-width="2.0" />
<line x1="412.00" y1="661.90" x2="412.00" y2="669.80" stroke="#111" stroke-width="2.0" />
<line x1="542.40" y1="661.90" x2="542.40" y2="669.80" stroke="#111" stroke-width="2.0" />
<line x1="671.00" y1="661.90" x2="671.00" y2="669.80" stroke="#111" stroke-width="2.0" />
<text transform="translate(251.07 371.20) scale(0.92 1)" font-size="14.7" stroke-width="0.3" >187</text>
<text transform="translate(594.91 388.10) scale(0.92 1)" font-size="14.7" stroke-width="0.3" >451</text>
<text transform="translate(102.76 628.90) scale(0.92 1)" font-size="14.7" stroke-width="0.3" >71</text>
<text transform="translate(127.09 621.20) scale(0.92 1)" font-size="14.7" stroke-width="0.3" >89</text>
<text transform="translate(230.54 621.90) scale(0.92 1)" font-size="14.7" stroke-width="0.3" >171</text>
<text transform="translate(266.07 591.00) scale(0.92 1)" font-size="14.7" stroke-width="0.3" >197</text>
<text transform="translate(303.04 591.00) scale(0.92 1)" font-size="14.7" stroke-width="0.3" >227</text>
<text transform="translate(284.77 607.10) scale(0.92 1)" font-size="14.7" stroke-width="0.3" >213</text>
<text transform="translate(321.86 618.20) scale(0.92 1)" font-size="14.7" stroke-width="0.3" >241</text>
<text transform="translate(340.47 643.00) scale(0.92 1)" font-size="14.7" stroke-width="0.3" >255</text>
<text transform="translate(570.93 629.90) scale(0.92 1)" font-size="14.7" stroke-width="0.3" >433</text>
<text x="134.00" y="687.40" font-size="16.6" stroke-width="0.35" >100</text>
<text x="266.26" y="687.40" font-size="16.6" stroke-width="0.35" >200</text>
<text x="399.94" y="685.50" font-size="16.6" stroke-width="0.35" >300</text>
<text x="527.70" y="685.50" font-size="16.6" stroke-width="0.35" >400</text>
<text x="656.89" y="685.50" font-size="16.6" stroke-width="0.35" >500</text>
<text x="39.84" y="385.00" font-size="19.6" stroke-width="0.35" >100</text>
<text x="50.50" y="526.20" font-size="20" stroke-width="0.35" >50</text>
<text x="0.39" y="377.70" font-size="21" stroke-width="0.4" >(b)</text>
<text transform="translate(26.62 630.69) rotate(-90) scale(0.946 1)" font-size="19.9" font-weight="bold" stroke-width="0.3">Relative ion intensity (%)</text>
<path d="M81.2 1008.4l2.6 2M83.8 1008.4l-2.6 2M94.2 1008.4l2.6 2M96.8 1008.4l-2.6 2M107.2 1008.4l2.6 2M109.8 1008.4l-2.6 2M120.3 1008.4l2.6 2M122.9 1008.4l-2.6 2M133.3 1008.4l2.6 2M135.9 1008.4l-2.6 2M146.3 1008.4l2.6 2M148.9 1008.4l-2.6 2M159.3 1008.4l2.6 2M161.9 1008.4l-2.6 2M172.3 1008.4l2.6 2M174.9 1008.4l-2.6 2M185.4 1008.4l2.6 2M188.0 1008.4l-2.6 2M198.4 1008.4l2.6 2M201.0 1008.4l-2.6 2M211.4 1008.4l2.6 2M214.0 1008.4l-2.6 2M224.4 1008.4l2.6 2M227.0 1008.4l-2.6 2M237.4 1008.4l2.6 2M240.0 1008.4l-2.6 2M250.5 1008.4l2.6 2M253.1 1008.4l-2.6 2M263.5 1008.4l2.6 2M266.1 1008.4l-2.6 2M276.5 1008.4l2.6 2M279.1 1008.4l-2.6 2M289.5 1008.4l2.6 2M292.1 1008.4l-2.6 2M302.5 1008.4l2.6 2M305.1 1008.4l-2.6 2M315.6 1008.4l2.6 2M318.2 1008.4l-2.6 2M328.6 1008.4l2.6 2M331.2 1008.4l-2.6 2M341.6 1008.4l2.6 2M344.2 1008.4l-2.6 2M354.6 1008.4l2.6 2M357.2 1008.4l-2.6 2M367.6 1008.4l2.6 2M370.2 1008.4l-2.6 2M380.7 1008.4l2.6 2M383.3 1008.4l-2.6 2M393.7 1008.4l2.6 2M396.3 1008.4l-2.6 2M406.7 1008.4l2.6 2M409.3 1008.4l-2.6 2M419.7 1008.4l2.6 2M422.3 1008.4l-2.6 2M432.7 1008.4l2.6 2M435.3 1008.4l-2.6 2M445.8 1008.4l2.6 2M448.4 1008.4l-2.6 2M458.8 1008.4l2.6 2M461.4 1008.4l-2.6 2M471.8 1008.4l2.6 2M474.4 1008.4l-2.6 2M484.8 1008.4l2.6 2M487.4 1008.4l-2.6 2M497.8 1008.4l2.6 2M500.4 1008.4l-2.6 2M510.9 1008.4l2.6 2M513.5 1008.4l-2.6 2M523.9 1008.4l2.6 2M526.5 1008.4l-2.6 2M536.9 1008.4l2.6 2M539.5 1008.4l-2.6 2M549.9 1008.4l2.6 2M552.5 1008.4l-2.6 2M562.9 1008.4l2.6 2M565.5 1008.4l-2.6 2M576.0 1008.4l2.6 2M578.6 1008.4l-2.6 2M589.0 1008.4l2.6 2M591.6 1008.4l-2.6 2M602.0 1008.4l2.6 2M604.6 1008.4l-2.6 2M615.0 1008.4l2.6 2M617.6 1008.4l-2.6 2M628.0 1008.4l2.6 2M630.6 1008.4l-2.6 2M641.1 1008.4l2.6 2M643.7 1008.4l-2.6 2M654.1 1008.4l2.6 2M656.7 1008.4l-2.6 2M667.1 1008.4l2.6 2M669.7 1008.4l-2.6 2" stroke="#c4c4c4" stroke-width="0.6" fill="none"/>
<path d="M86.0 1005.9L87.3 1004.7L88.6 1004.0L89.9 1005.4L91.2 1005.8L92.5 1005.0L93.8 1006.9L95.1 1005.3L96.4 1000.9L97.7 1004.8L99.0 1007.1L100.3 1006.4L101.6 1003.9L102.9 1005.1L104.2 1006.7L105.5 1006.9L106.8 1006.5L108.1 1004.9L109.4 1006.0L110.7 1007.3L112.0 1003.5L113.3 1004.6L114.6 1004.9L115.9 1004.5L117.2 1005.5L118.5 1005.2L119.8 1006.5L121.1 1006.8L122.4 1006.0L123.7 1005.9L125.0 1005.5L126.3 1005.9L127.6 1007.3L128.9 1005.6L130.2 1005.2L131.5 1005.1L132.8 1007.2L134.1 1005.3L135.4 1004.5L136.7 1007.1L138.0 1005.9L139.3 1005.4L140.6 1007.2L141.9 1003.7L143.2 1003.6L144.5 1003.6L145.8 1006.6L147.1 1004.9L148.4 1003.7L149.7 1006.0L151.0 1007.5L152.3 1006.7L153.6 1006.6L154.9 1007.0L156.2 1005.0L157.5 1001.2L158.8 1003.1L160.1 1004.0L161.4 1006.8L162.7 1004.4L164.0 1005.1L165.3 1006.5L166.6 1007.3L167.9 1006.3L169.2 1003.8L170.5 1006.3L171.8 1006.4L173.1 1004.5L174.4 1007.1L175.7 1007.4L177.0 1003.8L178.3 1006.8L179.6 1006.0L180.9 1007.5L182.2 1005.5L183.5 1004.7L184.8 1006.6L186.1 1003.1L187.4 1006.4L188.7 1006.2L190.0 1003.1L191.3 1003.8L192.6 1005.1L193.9 1004.4L195.2 1006.7L196.5 1007.1L197.8 1006.3L199.1 1004.9L200.4 1006.8L201.7 1007.3L203.0 1006.5L204.3 1003.9L205.6 1005.9L206.9 1005.8L208.2 1005.6L209.5 1006.1L210.8 1005.6L212.1 1005.5L213.4 1005.4L214.7 1003.8L216.0 1005.0L217.3 1005.9L218.6 1005.0L219.9 1006.7L221.2 1001.8L222.5 1005.2L223.8 1006.7L225.1 1006.5L226.4 1007.3L227.7 1004.5L229.0 1006.8L230.3 1003.6L231.6 1007.4L232.9 1005.9L234.2 1007.3L235.5 1003.2L236.8 1003.7L238.1 1007.1L239.4 1004.9L240.7 1004.7L242.0 1007.0L243.3 1005.0L244.6 1006.3L245.9 1007.3L247.2 1007.2L248.5 1005.4L249.8 1004.7L251.1 1004.6L252.4 1006.5L253.7 1004.7L255.0 1006.1L256.3 1006.1L257.6 1005.9L258.9 1003.5L260.2 1004.5L261.5 1003.4L262.8 1004.9L264.1 1006.6L265.4 1006.7L266.7 1006.4L268.0 1004.6L269.3 1005.5L270.6 1002.3L271.9 1006.5L273.2 1005.2L274.5 1007.3L275.8 1006.6L277.1 1006.9L278.4 1004.7L279.7 1006.9L281.0 1007.1L282.3 1001.6L283.6 1005.9L284.9 1006.6L286.2 1005.6L287.5 1007.0L288.8 1004.4L290.1 1006.0L291.4 1005.3L292.7 1006.4L294.0 1006.2L295.3 1006.2L296.6 1005.4L297.9 1006.6L299.2 1005.3L300.5 1002.8L301.8 1006.3L303.1 1007.1L304.4 1007.3L305.7 1006.2L307.0 1005.3L308.3 1005.7L309.6 1007.5L310.9 1005.5L312.2 1005.5L313.5 1004.5L314.8 1006.5L316.1 1006.6L317.4 1006.8L318.7 1003.3L320.0 1006.4L321.3 1005.4L322.6 1007.4L323.9 1006.8L325.2 1007.2L326.5 1007.0L327.8 1004.7L329.1 1005.1L330.4 1006.2L331.7 1005.8L333.0 1006.8L334.3 1005.9L335.6 1005.1L336.9 1006.9L338.2 1004.8L339.5 1006.8L340.8 1006.7L342.1 1007.1L343.4 1004.6L344.7 1001.0L346.0 1006.0L347.3 1007.1L348.6 1006.5L349.9 1007.0L351.2 1006.4L352.5 1005.3L353.8 1004.6L355.1 1003.1L356.4 1003.8L357.7 1005.8L359.0 1002.7L360.3 1006.7L361.6 1006.4L362.9 1004.7L364.2 1003.4L365.5 1006.7L366.8 1004.9L368.1 1005.1L369.4 1006.7L370.7 1006.3L372.0 1002.5L373.3 1007.1L374.6 1001.8L375.9 1003.8L377.2 1005.1L378.5 1006.1L379.8 1004.8L381.1 1006.5L382.4 1006.5L383.7 1006.1L385.0 1005.2L386.3 1007.0L387.6 1005.4L388.9 1004.9L390.2 1006.9L391.5 1004.2L392.8 1004.2L394.1 1006.0L395.4 1006.4L396.7 1005.7L398.0 1004.9L399.3 1004.9L400.6 1001.7L401.9 1006.7L403.2 1006.8L404.5 1007.0L405.8 1005.0L407.1 1006.1L408.4 1006.5L409.7 1003.9L411.0 1006.8L412.3 1006.2L413.6 1006.1L414.9 1006.9L416.2 1005.8L417.5 1005.6L418.8 1005.5L420.1 1005.1L421.4 1005.0L422.7 1004.2L424.0 1006.9L425.3 1004.1L426.6 1005.2L427.9 1004.9L429.2 1005.6L430.5 1006.4L431.8 1006.8L433.1 1006.7L434.4 1005.0L435.7 1005.2L437.0 1006.9L438.3 1006.7L439.6 1006.7L440.9 1006.1L442.2 1005.0L443.5 1004.3L444.8 1005.4L446.1 1003.9L447.4 1004.0L448.7 1004.8L450.0 1004.2L451.3 1006.5L452.6 1005.3L453.9 1005.1L455.2 1007.1L456.5 1006.7L457.8 1005.5L459.1 1006.6L460.4 1007.1L461.7 1002.5L463.0 1006.9L464.3 1006.8L465.6 1003.9L466.9 1006.5L468.2 1003.2L469.5 1007.2L470.8 1006.2L472.1 1007.1L473.4 1006.2L474.7 1007.4L476.0 1006.1L477.3 1006.8L478.6 1007.0L479.9 1005.7L481.2 1004.9L482.5 1004.9L483.8 1006.9L485.1 1005.7L486.4 1007.3L487.7 1006.1L489.0 1007.3L490.3 1007.4L491.6 1005.9L492.9 1004.8L494.2 1004.9L495.5 1005.9L496.8 1007.3L498.1 1005.6L499.4 1005.9L500.7 1006.2L502.0 1005.2L503.3 1007.0L504.6 1007.3L505.9 1004.9L507.2 1007.2L508.5 1007.0L509.8 1004.2L511.1 1004.9L512.4 1007.0L513.7 1005.4L515.0 1006.0L516.3 1004.1L517.6 1006.2L518.9 1007.1L520.2 1006.0L521.5 1007.1L522.8 1005.5L524.1 1003.8L525.4 1004.7L526.7 1005.9L528.0 1006.8L529.3 1007.3L530.6 1005.3L531.9 1004.9L533.2 1005.0L534.5 1005.9L535.8 1004.9L537.1 1007.3L538.4 1003.8L539.7 1006.5L541.0 1006.1L542.3 1006.0L543.6 1006.3L544.9 1005.3L546.2 1006.4L547.5 1004.0L548.8 1005.7L550.1 1006.5L551.4 1005.2L552.7 1005.0L554.0 1006.6L555.3 1005.0L556.6 1005.5L557.9 1005.1L559.2 1005.3L560.5 1006.5L561.8 1006.7L563.1 1005.7L564.4 1005.6L565.7 1006.4L567.0 1005.4L568.3 1006.7L569.6 1006.0L570.9 1004.0L572.2 1006.3L573.5 1005.9L574.8 1004.2L576.1 1006.6L577.4 1003.9L578.7 1006.2L580.0 1007.0L581.3 1006.4L582.6 1006.3L583.9 1006.7L585.2 1005.0L586.5 1005.3L587.8 1006.8L589.1 1005.6" stroke="#111" stroke-width="1.3" fill="none" stroke-linejoin="miter"/>
<path d="M88.6 1006.8V1004.0M96.4 1006.8V1000.9M101.6 1006.8V1003.9M112.0 1006.8V1003.5M141.9 1006.8V1003.7M143.2 1006.8V1003.6M144.5 1006.8V1003.6M148.4 1006.8V1003.7M157.5 1006.8V1001.2M158.8 1006.8V1003.1M160.1 1006.8V1004.0M169.2 1006.8V1003.8M177.0 1006.8V1003.8M186.1 1006.8V1003.1M190.0 1006.8V1003.1M191.3 1006.8V1003.8M204.3 1006.8V1003.9M214.7 1006.8V1003.8M221.2 1006.8V1001.8M230.3 1006.8V1003.6M235.5 1006.8V1003.2M236.8 1006.8V1003.7M258.9 1006.8V1003.5M261.5 1006.8V1003.4M270.6 1006.8V1002.3M282.3 1006.8V1001.6M300.5 1006.8V1002.8M318.7 1006.8V1003.3M344.7 1006.8V1001.0M355.1 1006.8V1003.1M356.4 1006.8V1003.8M359.0 1006.8V1002.7M364.2 1006.8V1003.4M372.0 1006.8V1002.5M374.6 1006.8V1001.8M375.9 1006.8V1003.8M391.5 1006.8V1004.2M400.6 1006.8V1001.7M409.7 1006.8V1003.9M422.7 1006.8V1004.2M425.3 1006.8V1004.1M446.1 1006.8V1003.9M447.4 1006.8V1004.0M461.7 1006.8V1002.5M465.6 1006.8V1003.9M468.2 1006.8V1003.2M516.3 1006.8V1004.1M524.1 1006.8V1003.8M538.4 1006.8V1003.8M547.5 1006.8V1004.0M570.9 1006.8V1004.0M574.8 1006.8V1004.2M577.4 1006.8V1003.9" stroke="#222" stroke-width="1" fill="none"/>
<line x1="93.10" y1="1007.10" x2="93.10" y2="994.30" stroke="#141414" stroke-width="1.3" />
<line x1="96.30" y1="1007.10" x2="96.30" y2="1004.50" stroke="#141414" stroke-width="1.3" />
<line x1="105.90" y1="1007.10" x2="105.90" y2="1002.20" stroke="#141414" stroke-width="1.3" />
<line x1="108.90" y1="1007.10" x2="108.90" y2="994.70" stroke="#141414" stroke-width="1.3" />
<line x1="111.20" y1="1007.10" x2="111.20" y2="987.00" stroke="#141414" stroke-width="1.3" />
<line x1="112.90" y1="1007.10" x2="112.90" y2="1003.00" stroke="#141414" stroke-width="1.3" />
<line x1="124.30" y1="1007.10" x2="124.30" y2="997.50" stroke="#141414" stroke-width="1.3" />
<line x1="127.30" y1="1007.10" x2="127.30" y2="996.40" stroke="#141414" stroke-width="1.3" />
<line x1="129.20" y1="1007.10" x2="129.20" y2="993.40" stroke="#141414" stroke-width="1.3" />
<line x1="130.40" y1="1007.10" x2="130.40" y2="991.20" stroke="#141414" stroke-width="1.3" />
<line x1="132.50" y1="1007.10" x2="132.50" y2="1002.20" stroke="#141414" stroke-width="1.3" />
<line x1="134.10" y1="1007.10" x2="134.10" y2="966.30" stroke="#141414" stroke-width="1.3" />
<line x1="135.30" y1="1007.10" x2="135.30" y2="978.20" stroke="#141414" stroke-width="2" />
<line x1="140.00" y1="1007.10" x2="140.00" y2="1003.40" stroke="#141414" stroke-width="1.3" />
<line x1="142.40" y1="1007.10" x2="142.40" y2="994.30" stroke="#141414" stroke-width="1.3" />
<line x1="145.50" y1="1007.10" x2="145.50" y2="994.30" stroke="#141414" stroke-width="1.3" />
<line x1="160.40" y1="1007.10" x2="160.40" y2="996.40" stroke="#141414" stroke-width="1.3" />
<line x1="162.90" y1="1007.10" x2="162.90" y2="1002.20" stroke="#141414" stroke-width="1.3" />
<line x1="171.30" y1="1007.10" x2="171.30" y2="1002.20" stroke="#141414" stroke-width="1.3" />
<line x1="178.70" y1="1007.10" x2="178.70" y2="1001.30" stroke="#141414" stroke-width="1.3" />
<line x1="180.00" y1="1007.10" x2="180.00" y2="1002.20" stroke="#141414" stroke-width="1.3" />
<line x1="189.10" y1="1007.10" x2="189.10" y2="1001.30" stroke="#141414" stroke-width="1.3" />
<line x1="191.50" y1="1007.10" x2="191.50" y2="989.40" stroke="#141414" stroke-width="1.3" />
<line x1="192.80" y1="1007.10" x2="192.80" y2="994.70" stroke="#141414" stroke-width="1.3" />
<line x1="197.50" y1="1007.10" x2="197.50" y2="1001.30" stroke="#141414" stroke-width="1.3" />
<line x1="209.40" y1="1007.10" x2="209.40" y2="1002.70" stroke="#141414" stroke-width="1.3" />
<line x1="215.20" y1="1007.10" x2="215.20" y2="1003.00" stroke="#141414" stroke-width="1.3" />
<line x1="226.10" y1="1007.10" x2="226.10" y2="1001.30" stroke="#141414" stroke-width="1.3" />
<line x1="227.80" y1="1007.10" x2="227.80" y2="1000.40" stroke="#141414" stroke-width="1.3" />
<line x1="235.70" y1="1007.10" x2="235.70" y2="1002.20" stroke="#141414" stroke-width="1.3" />
<line x1="240.60" y1="1007.10" x2="240.60" y2="983.40" stroke="#141414" stroke-width="1.3" />
<line x1="241.80" y1="1007.10" x2="241.80" y2="996.40" stroke="#141414" stroke-width="1.3" />
<line x1="243.90" y1="1007.10" x2="243.90" y2="999.60" stroke="#141414" stroke-width="1.3" />
<line x1="248.80" y1="1007.10" x2="248.80" y2="994.30" stroke="#141414" stroke-width="1.3" />
<line x1="254.10" y1="1007.10" x2="254.10" y2="998.70" stroke="#141414" stroke-width="1.3" />
<line x1="257.10" y1="1007.10" x2="257.10" y2="1002.70" stroke="#141414" stroke-width="1.3" />
<line x1="258.80" y1="1007.10" x2="258.80" y2="961.40" stroke="#141414" stroke-width="1.3" />
<line x1="259.90" y1="1007.10" x2="259.90" y2="972.40" stroke="#141414" stroke-width="2" />
<line x1="261.90" y1="1007.10" x2="261.90" y2="797.70" stroke="#2a2a2a" stroke-width="1.5" />
<line x1="269.90" y1="1007.10" x2="269.90" y2="1003.00" stroke="#141414" stroke-width="1.3" />
<line x1="272.00" y1="1007.10" x2="272.00" y2="995.70" stroke="#141414" stroke-width="1.3" />
<line x1="274.80" y1="1007.10" x2="274.80" y2="965.40" stroke="#141414" stroke-width="1.3" />
<line x1="276.90" y1="1007.10" x2="276.90" y2="977.10" stroke="#141414" stroke-width="1.3" />
<line x1="277.90" y1="1007.10" x2="277.90" y2="979.40" stroke="#141414" stroke-width="1.6" />
<line x1="280.00" y1="1007.10" x2="280.00" y2="998.70" stroke="#666" stroke-width="1.3" />
<line x1="289.80" y1="1007.10" x2="289.80" y2="992.20" stroke="#141414" stroke-width="1.3" />
<line x1="291.00" y1="1007.10" x2="291.00" y2="995.30" stroke="#141414" stroke-width="1.3" />
<line x1="292.80" y1="1007.10" x2="292.80" y2="982.20" stroke="#555" stroke-width="1.3" />
<line x1="294.20" y1="1007.10" x2="294.20" y2="978.00" stroke="#777" stroke-width="1.4" />
<line x1="295.00" y1="1007.10" x2="295.00" y2="972.20" stroke="#141414" stroke-width="1.3" />
<line x1="296.10" y1="1007.10" x2="296.10" y2="974.70" stroke="#141414" stroke-width="1.6" />
<line x1="302.90" y1="1007.10" x2="302.90" y2="1001.50" stroke="#141414" stroke-width="1.3" />
<line x1="307.80" y1="1007.10" x2="307.80" y2="979.60" stroke="#141414" stroke-width="1.6" />
<line x1="309.60" y1="1007.10" x2="309.60" y2="983.90" stroke="#141414" stroke-width="1.3" />
<line x1="310.80" y1="1007.10" x2="310.80" y2="982.20" stroke="#555" stroke-width="1.4" />
<line x1="312.90" y1="1007.10" x2="312.90" y2="975.70" stroke="#141414" stroke-width="2" />
<line x1="314.10" y1="1007.10" x2="314.10" y2="973.40" stroke="#141414" stroke-width="1.3" />
<line x1="326.00" y1="1007.10" x2="326.00" y2="987.50" stroke="#141414" stroke-width="1.3" />
<line x1="326.90" y1="1007.10" x2="326.90" y2="988.30" stroke="#141414" stroke-width="1.3" />
<line x1="329.60" y1="1007.10" x2="329.60" y2="996.60" stroke="#555" stroke-width="1.3" />
<line x1="331.10" y1="1007.10" x2="331.10" y2="989.60" stroke="#141414" stroke-width="1.3" />
<line x1="332.40" y1="1007.10" x2="332.40" y2="982.20" stroke="#141414" stroke-width="1.3" />
<line x1="344.10" y1="1007.10" x2="344.10" y2="995.30" stroke="#141414" stroke-width="1.3" />
<line x1="345.30" y1="1007.10" x2="345.30" y2="999.70" stroke="#141414" stroke-width="1.3" />
<line x1="347.60" y1="1007.10" x2="347.60" y2="1000.20" stroke="#141414" stroke-width="1.3" />
<line x1="349.00" y1="1007.10" x2="349.00" y2="1001.50" stroke="#141414" stroke-width="1.3" />
<line x1="350.40" y1="1007.10" x2="350.40" y2="994.50" stroke="#141414" stroke-width="1.3" />
<line x1="363.40" y1="1007.10" x2="363.40" y2="1001.50" stroke="#141414" stroke-width="1.3" />
<line x1="368.30" y1="1007.10" x2="368.30" y2="997.40" stroke="#141414" stroke-width="1.3" />
<line x1="381.70" y1="1007.10" x2="381.70" y2="1001.00" stroke="#141414" stroke-width="1.3" />
<line x1="386.40" y1="1007.10" x2="386.40" y2="1001.60" stroke="#141414" stroke-width="1.3" />
<line x1="404.60" y1="1007.10" x2="404.60" y2="999.70" stroke="#141414" stroke-width="1.3" />
<line x1="422.60" y1="1007.10" x2="422.60" y2="1001.60" stroke="#141414" stroke-width="1.3" />
<line x1="440.60" y1="1007.10" x2="440.60" y2="996.20" stroke="#141414" stroke-width="1.3" />
<line x1="448.30" y1="1007.10" x2="448.30" y2="1001.60" stroke="#141414" stroke-width="1.3" />
<line x1="458.80" y1="1007.10" x2="458.80" y2="1001.60" stroke="#141414" stroke-width="1.3" />
<line x1="477.50" y1="1007.10" x2="477.50" y2="1002.00" stroke="#141414" stroke-width="1.3" />
<line x1="526.20" y1="1007.10" x2="526.20" y2="1000.50" stroke="#141414" stroke-width="1.3" />
<line x1="528.50" y1="1007.10" x2="528.50" y2="997.70" stroke="#666" stroke-width="1.6" />
<line x1="531.30" y1="1007.10" x2="531.30" y2="1000.50" stroke="#141414" stroke-width="1.3" />
<line x1="544.20" y1="1007.10" x2="544.20" y2="1002.80" stroke="#141414" stroke-width="1.3" />
<line x1="557.20" y1="1007.10" x2="557.20" y2="1001.70" stroke="#141414" stroke-width="1.3" />
<line x1="561.90" y1="1007.10" x2="561.90" y2="995.30" stroke="#141414" stroke-width="1.3" />
<line x1="563.60" y1="1007.10" x2="563.60" y2="996.30" stroke="#141414" stroke-width="1.3" />
<line x1="567.10" y1="1007.10" x2="567.10" y2="991.60" stroke="#141414" stroke-width="1.3" />
<line x1="568.20" y1="1007.10" x2="568.20" y2="995.80" stroke="#141414" stroke-width="1.3" />
<line x1="580.60" y1="1007.10" x2="580.60" y2="987.60" stroke="#141414" stroke-width="2" />
<line x1="581.60" y1="1007.10" x2="581.60" y2="987.00" stroke="#141414" stroke-width="1.2" />
<line x1="584.30" y1="1007.10" x2="584.30" y2="996.30" stroke="#141414" stroke-width="1.4" />
<line x1="603.80" y1="1007.10" x2="603.80" y2="782.30" stroke="#000" stroke-width="2.2" />
<line x1="604.40" y1="1007.10" x2="604.40" y2="724.30" stroke="#141414" stroke-width="1.2" />
<line x1="605.80" y1="1007.10" x2="605.80" y2="988.30" stroke="#141414" stroke-width="1.4" />
<line x1="607" y1="1007.8" x2="666.8" y2="1007.8" stroke="#777" stroke-width="0.9" stroke-dasharray="1.2 1.4"/>
<line x1="83.30" y1="1006.80" x2="667.80" y2="1006.80" stroke="#0a0a0a" stroke-width="1.4" />
<line x1="667.80" y1="1006.80" x2="672.80" y2="1006.80" stroke="#999" stroke-width="0.8" />
<line x1="84.00" y1="723.40" x2="84.00" y2="1007.40" stroke="#3a3a3a" stroke-width="1.4" />
<line x1="68.90" y1="723.30" x2="80.20" y2="723.30" stroke="#0a0a0a" stroke-width="2.0" />
<line x1="69.20" y1="863.70" x2="82.00" y2="863.70" stroke="#0a0a0a" stroke-width="2.0" />
<line x1="82.00" y1="809.00" x2="84.00" y2="809.00" stroke="#444" stroke-width="1.0" />
<line x1="82.00" y1="837.20" x2="84.00" y2="837.20" stroke="#444" stroke-width="1.0" />
<line x1="146.70" y1="1006.80" x2="146.70" y2="1016.60" stroke="#111" stroke-width="2.0" />
<line x1="277.30" y1="1006.80" x2="277.30" y2="1016.60" stroke="#111" stroke-width="2.0" />
<line x1="407.90" y1="1006.80" x2="407.90" y2="1016.60" stroke="#111" stroke-width="2.0" />
<line x1="537.60" y1="1006.80" x2="537.60" y2="1016.60" stroke="#111" stroke-width="2.0" />
<line x1="667.50" y1="1006.80" x2="667.50" y2="1016.60" stroke="#111" stroke-width="2.0" />
<text transform="translate(250.07 787.40) scale(0.92 1)" font-size="14.7" stroke-width="0.3" >187</text>
<text transform="translate(593.31 716.30) scale(0.92 1)" font-size="14.7" stroke-width="0.3" >451</text>
<text transform="translate(102.76 977.70) scale(0.92 1)" font-size="14.7" stroke-width="0.3" >71</text>
<text transform="translate(127.09 956.10) scale(0.92 1)" font-size="14.7" stroke-width="0.3" >89</text>
<text transform="translate(180.85 982.90) scale(0.92 1)" font-size="14.7" stroke-width="0.3" >133</text>
<text transform="translate(230.54 974.50) scale(0.92 1)" font-size="14.7" stroke-width="0.3" >171</text>
<text transform="translate(264.02 953.00) scale(0.92 1)" font-size="14.7" stroke-width="0.3" >197</text>
<text transform="translate(305.04 950.70) scale(0.92 1)" font-size="14.7" stroke-width="0.3" >227</text>
<text transform="translate(286.12 965.90) scale(0.92 1)" font-size="14.7" stroke-width="0.3" >213</text>
<text transform="translate(321.86 974.00) scale(0.92 1)" font-size="14.7" stroke-width="0.3" >241</text>
<text transform="translate(343.02 988.00) scale(0.92 1)" font-size="14.7" stroke-width="0.3" >255</text>
<text transform="translate(569.98 980.10) scale(0.92 1)" font-size="14.7" stroke-width="0.3" >433</text>
<text x="128.95" y="1034.30" font-size="16.6" stroke-width="0.35" >100</text>
<text x="262.21" y="1034.30" font-size="16.6" stroke-width="0.35" >200</text>
<text x="394.89" y="1032.30" font-size="16.6" stroke-width="0.35" >300</text>
<text x="522.80" y="1032.30" font-size="16.6" stroke-width="0.35" >400</text>
<text x="652.74" y="1032.30" font-size="16.6" stroke-width="0.35" >500</text>
<text x="36.59" y="732.30" font-size="19.6" stroke-width="0.35" >100</text>
<text x="45.45" y="872.80" font-size="20" stroke-width="0.35" >50</text>
<text x="0.87" y="721.90" font-size="21" stroke-width="0.4" >(c)</text>
<text transform="translate(25.62 982.89) rotate(-90) scale(0.946 1)" font-size="19.9" font-weight="bold" stroke-width="0.3">Relative ion intensity (%)</text>
<line x1="80.20" y1="723.50" x2="84.00" y2="723.50" stroke="#555" stroke-width="0.8" />
<text x="333.15" y="1059.30" font-size="19.7" stroke-width="0.35" font-weight="bold" font-style="italic">m/z</text>
<text x="0.34" y="1096.80" font-size="21" stroke-width="0.4" >(d)</text>
<line x1="141.60" y1="1130.40" x2="168.60" y2="1145.50" stroke="#383838" stroke-width="1.2" stroke-linecap="round"/>
<line x1="168.60" y1="1145.50" x2="168.60" y2="1177.80" stroke="#383838" stroke-width="1.2" stroke-linecap="round"/>
<line x1="168.60" y1="1177.80" x2="141.60" y2="1192.90" stroke="#383838" stroke-width="1.2" stroke-linecap="round"/>
<line x1="141.60" y1="1192.90" x2="114.30" y2="1177.80" stroke="#383838" stroke-width="1.2" stroke-linecap="round"/>
<line x1="114.30" y1="1177.80" x2="114.30" y2="1145.50" stroke="#383838" stroke-width="1.2" stroke-linecap="round"/>
<line x1="114.30" y1="1145.50" x2="141.60" y2="1130.40" stroke="#383838" stroke-width="1.2" stroke-linecap="round"/>
<line x1="168.60" y1="1145.50" x2="195.00" y2="1130.80" stroke="#383838" stroke-width="1.2" stroke-linecap="round"/>
<line x1="195.00" y1="1130.80" x2="222.40" y2="1145.50" stroke="#383838" stroke-width="1.2" stroke-linecap="round"/>
<line x1="222.40" y1="1145.50" x2="222.40" y2="1178.50" stroke="#383838" stroke-width="1.2" stroke-linecap="round"/>
<line x1="222.40" y1="1178.50" x2="195.00" y2="1192.90" stroke="#383838" stroke-width="1.2" stroke-linecap="round"/>
<line x1="195.00" y1="1192.90" x2="168.60" y2="1177.80" stroke="#383838" stroke-width="1.2" stroke-linecap="round"/>
<line x1="118.60" y1="1146.30" x2="141.60" y2="1133.90" stroke="#383838" stroke-width="1.2" stroke-linecap="round"/>
<line x1="118.60" y1="1177.00" x2="141.60" y2="1189.40" stroke="#383838" stroke-width="1.2" stroke-linecap="round"/>
<line x1="172.90" y1="1149.60" x2="172.90" y2="1174.60" stroke="#383838" stroke-width="1.2" stroke-linecap="round"/>
<line x1="218.00" y1="1149.60" x2="218.00" y2="1175.30" stroke="#383838" stroke-width="1.2" stroke-linecap="round"/>
<line x1="193.60" y1="1110.60" x2="193.60" y2="1130.50" stroke="#383838" stroke-width="1.2" stroke-linecap="round"/>
<line x1="196.40" y1="1110.60" x2="196.40" y2="1130.50" stroke="#383838" stroke-width="1.2" stroke-linecap="round"/>
<line x1="193.60" y1="1193.20" x2="193.60" y2="1210.60" stroke="#383838" stroke-width="1.2" stroke-linecap="round"/>
<line x1="196.40" y1="1193.20" x2="196.40" y2="1210.60" stroke="#383838" stroke-width="1.2" stroke-linecap="round"/>
<text transform="translate(190.60 1108.00) scale(0.86 1)" font-size="12" stroke-width="0.1" fill="#222" stroke="#222">O</text>
<text transform="translate(190.60 1221.70) scale(0.86 1)" font-size="12" stroke-width="0.1" fill="#222" stroke="#222">O</text>
<line x1="222.40" y1="1178.50" x2="250.70" y2="1195.10" stroke="#383838" stroke-width="1.2" stroke-linecap="round"/>
<line x1="222.40" y1="1145.50" x2="249.70" y2="1131.00" stroke="#383838" stroke-width="1.2" stroke-linecap="round"/>
<line x1="249.70" y1="1131.00" x2="276.10" y2="1146.00" stroke="#383838" stroke-width="1.2" stroke-linecap="round"/>
<line x1="276.10" y1="1146.00" x2="302.80" y2="1131.00" stroke="#383838" stroke-width="1.2" stroke-linecap="round"/>
<line x1="302.80" y1="1131.00" x2="329.70" y2="1146.00" stroke="#383838" stroke-width="1.2" stroke-linecap="round"/>
<line x1="329.70" y1="1146.00" x2="356.60" y2="1131.00" stroke="#383838" stroke-width="1.2" stroke-linecap="round"/>
<line x1="356.60" y1="1131.00" x2="383.50" y2="1146.00" stroke="#383838" stroke-width="1.2" stroke-linecap="round"/>
<line x1="383.50" y1="1146.00" x2="410.30" y2="1131.00" stroke="#383838" stroke-width="1.2" stroke-linecap="round"/>
<line x1="410.30" y1="1131.00" x2="437.10" y2="1146.00" stroke="#383838" stroke-width="1.2" stroke-linecap="round"/>
<line x1="437.10" y1="1146.00" x2="463.80" y2="1131.00" stroke="#383838" stroke-width="1.2" stroke-linecap="round"/>
<line x1="463.80" y1="1131.00" x2="490.60" y2="1146.00" stroke="#383838" stroke-width="1.2" stroke-linecap="round"/>
<line x1="490.60" y1="1146.00" x2="517.20" y2="1131.00" stroke="#383838" stroke-width="1.2" stroke-linecap="round"/>
<line x1="517.20" y1="1131.00" x2="544.00" y2="1146.00" stroke="#383838" stroke-width="1.2" stroke-linecap="round"/>
<line x1="544.00" y1="1146.00" x2="570.60" y2="1131.00" stroke="#383838" stroke-width="1.2" stroke-linecap="round"/>
<line x1="570.60" y1="1131.00" x2="597.00" y2="1146.00" stroke="#383838" stroke-width="1.2" stroke-linecap="round"/>
<line x1="597.00" y1="1146.00" x2="623.50" y2="1131.00" stroke="#383838" stroke-width="1.2" stroke-linecap="round"/>
<line x1="623.50" y1="1131.00" x2="651.00" y2="1146.90" stroke="#383838" stroke-width="1.2" stroke-linecap="round"/>
<line x1="302.80" y1="1131.00" x2="302.80" y2="1097.30" stroke="#383838" stroke-width="1.2" stroke-linecap="round"/>
<line x1="410.30" y1="1131.00" x2="410.30" y2="1097.30" stroke="#383838" stroke-width="1.2" stroke-linecap="round"/>
<line x1="517.20" y1="1131.00" x2="517.20" y2="1097.30" stroke="#383838" stroke-width="1.2" stroke-linecap="round"/>
<line x1="623.50" y1="1131.00" x2="623.50" y2="1097.30" stroke="#383838" stroke-width="1.2" stroke-linecap="round"/>
<line x1="275.60" y1="1141.40" x2="298.60" y2="1128.90" stroke="#383838" stroke-width="1.2" stroke-linecap="round"/>
<line x1="262.40" y1="1098.90" x2="262.40" y2="1106.90" stroke="#111" stroke-width="2.1" />
<line x1="262.40" y1="1113.50" x2="262.40" y2="1121.50" stroke="#111" stroke-width="2.1" />
<line x1="262.40" y1="1127.30" x2="262.40" y2="1135.40" stroke="#111" stroke-width="2.1" />
<line x1="262.40" y1="1141.20" x2="262.40" y2="1149.20" stroke="#111" stroke-width="2.1" />
<line x1="262.40" y1="1155.00" x2="262.40" y2="1162.20" stroke="#111" stroke-width="2.1" />
<line x1="254.00" y1="1161.20" x2="263.40" y2="1161.20" stroke="#111" stroke-width="2.1" />
<line x1="240.00" y1="1161.20" x2="247.80" y2="1161.20" stroke="#111" stroke-width="2.1" />
<line x1="76.70" y1="1132.30" x2="76.70" y2="1139.90" stroke="#111" stroke-width="2.1" />
<line x1="76.70" y1="1146.60" x2="76.70" y2="1154.50" stroke="#111" stroke-width="2.1" />
<line x1="76.70" y1="1160.60" x2="76.70" y2="1168.10" stroke="#111" stroke-width="2.1" />
<line x1="76.70" y1="1174.70" x2="76.70" y2="1182.50" stroke="#111" stroke-width="2.1" />
<line x1="76.70" y1="1188.90" x2="76.70" y2="1196.50" stroke="#111" stroke-width="2.1" />
<line x1="76.70" y1="1202.90" x2="76.70" y2="1210.50" stroke="#111" stroke-width="2.1" />
<line x1="76.70" y1="1216.70" x2="76.70" y2="1224.30" stroke="#111" stroke-width="2.1" />
<line x1="76.70" y1="1230.50" x2="76.70" y2="1234.50" stroke="#111" stroke-width="2.1" />
<line x1="75.70" y1="1233.50" x2="83.90" y2="1233.50" stroke="#111" stroke-width="2.1" />
<line x1="90.10" y1="1233.50" x2="98.00" y2="1233.50" stroke="#111" stroke-width="2.1" />
<line x1="104.40" y1="1233.50" x2="112.30" y2="1233.50" stroke="#111" stroke-width="2.1" />
<text x="242.78" y="1184.60" font-size="16" stroke-width="0.15" fill="#222" stroke="#222">187</text>
<text x="102.12" y="1222.9" font-size="16" stroke-width="0.15" fill="#222" stroke="#222">+<tspan dx="1.63">H</tspan></text>
<text x="83.41" y="1257.20" font-size="15.6" stroke-width="0.15" fill="#222" stroke="#222">451</text>
</svg>
</body></html>
